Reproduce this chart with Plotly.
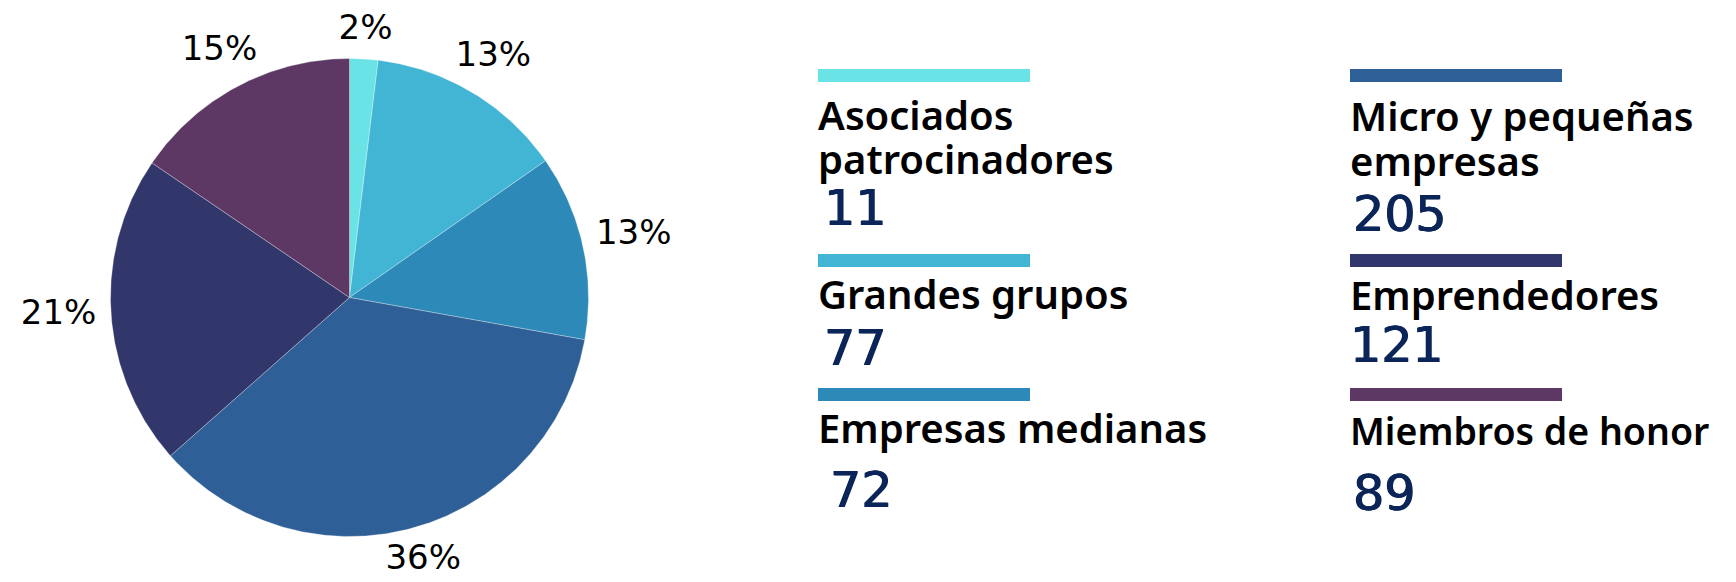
import numpy as np
import plotly.graph_objects as go

# ---------------- data ----------------
categories = ["Asociados patrocinadores", "Grandes grupos", "Empresas medianas",
              "Micro y pequeñas empresas", "Emprendedores", "Miembros de honor"]
label_lines = [["Asociados", "patrocinadores"], ["Grandes grupos"], ["Empresas medianas"],
               ["Micro y pequeñas", "empresas"], ["Emprendedores"], ["Miembros de honor"]]
values = [11, 77, 72, 205, 121, 89]
colors = ["#6ae3e6", "#42b5d5", "#2d8ab8", "#2f5f97", "#31366b", "#5d3865"]

# ---------------- layout constants (screen pixels) ----------------
W, H = 1736, 582
OFF = 8                      # page body margin of the browser
pie_cx, pie_cy, pie_r = 349.5, 297.5, 239.0
pie_dom_px = 720
# legend blocks: (text x, bar top, baselines of label lines, number x, number baseline, label size)
legend_pos = [
    (818, 69, [130, 174], 822, 225, 40),
    (818, 254, [309], 822, 365, 40),
    (818, 388, [443], 828, 507, 40),
    (1350, 69, [131, 176], 1351, 231, 40),
    (1350, 254, [310], 1348, 362, 40),
    (1350, 388, [445], 1351, 510, 37.5),
]
bar_w, bar_h = 212, 13
num_size, pct_size = 49, 34
num_color = "#0b2559"


def px(x):
    return (x - OFF) / W


def py(y):
    return 1 - (y - OFF) / H


fig = go.Figure()
total = float(sum(values))
start = 0.0
lx, ly, ltxt = [], [], []
for cat, v, col in zip(categories, values, colors):
    span = v / total * 2 * np.pi
    n = max(int(np.degrees(span) * 2), 4)
    th = np.linspace(start, start + span, n)
    xs = np.concatenate([[0], np.sin(th), [0]])
    ys = np.concatenate([[0], np.cos(th), [0]])
    fig.add_trace(go.Scatter(
        x=xs, y=ys, mode="lines", fill="toself", fillcolor=col,
        line=dict(color="rgba(255,255,255,0.5)", width=0.6),
        name=cat, text=f"{cat}: {v}", hoverinfo="text", showlegend=False))
    mid = start + span / 2
    r = 1.115 + 0.105 * abs(np.sin(mid))
    lx.append(r * np.sin(mid))
    ly.append(r * np.cos(mid))
    ltxt.append(f"{round(v / total * 100)}%")
    start += span

fig.add_trace(go.Scatter(
    x=lx, y=ly, mode="text", text=ltxt, hoverinfo="skip", showlegend=False,
    cliponaxis=False,
    textfont=dict(family="DejaVu Sans", size=pct_size, color="black")))

# legend (custom)
shapes, annotations = [], []
bold_shadow = f"0.7px 0px 0px {num_color}, -0.5px 0px 0px {num_color}"
for (tx, bar_top, baselines, nx, nb, lsize), lines, v, col in zip(legend_pos, label_lines, values, colors):
    shapes.append(dict(type="rect", xref="paper", yref="paper", x0=px(tx), x1=px(tx + bar_w),
                       y0=py(bar_top), y1=py(bar_top + bar_h), fillcolor=col, line=dict(width=0)))
    for line, b in zip(lines, baselines):
        annotations.append(dict(xref="paper", yref="paper", x=px(tx - 2), y=py(b - 0.388 * lsize),
                                xanchor="left", yanchor="middle", showarrow=False, text=line,
                                font=dict(family="Noto Sans", size=lsize, weight=600,
                                          color="black")))
    annotations.append(dict(xref="paper", yref="paper", x=px(nx), y=py(nb - 0.346 * num_size),
                            xanchor="left", yanchor="middle", showarrow=False, text=str(v),
                            font=dict(family="DejaVu Sans", size=num_size, color=num_color,
                                      shadow=bold_shadow)))

cxp, cyp = pie_cx - OFF, pie_cy - OFF
fig.update_layout(
    width=W, height=H, margin=dict(l=0, r=0, t=0, b=0),
    paper_bgcolor="white", plot_bgcolor="rgba(0,0,0,0)", showlegend=False,
    xaxis=dict(domain=[0, pie_dom_px / W], range=[-cxp / pie_r, (pie_dom_px - cxp) / pie_r],
               visible=False, fixedrange=True),
    yaxis=dict(domain=[0, 1], range=[-(H - cyp) / pie_r, cyp / pie_r], visible=False,
               fixedrange=True),
    shapes=shapes, annotations=annotations,
)

fig.write_html("out.html")
